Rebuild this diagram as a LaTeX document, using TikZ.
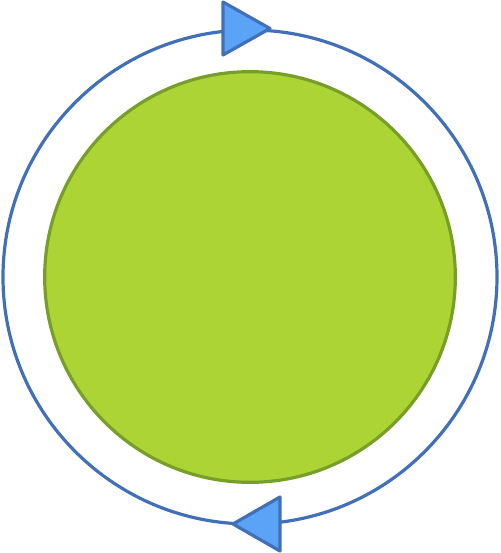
\documentclass[tikz,border=0pt]{standalone}
\usepackage{tikz}
\definecolor{ringblue}{RGB}{65,112,184}
\definecolor{tipblue}{RGB}{91,163,247}
\definecolor{hubgreen}{RGB}{173,212,53}
\definecolor{hubedge}{RGB}{120,158,42}

\begin{document}
\begin{tikzpicture}[line cap=round,line join=round,x=0.75pt,y=-0.75pt,
    ring/.style={line width=2.4pt,color=ringblue},
    tiptri/.style={line width=2.4pt,draw=ringblue,fill=tipblue},
    hub/.style={circle,minimum size=308pt,inner sep=0pt,line width=2.4pt,draw=hubedge,fill=hubgreen}]

    \useasboundingbox (0,0) rectangle (500,553);

    \draw [ring] (250,277) circle (185.25pt);
    \node [hub] (hub) at (250,277) {};

    % arrow heads on the ring
    \draw [tiptri] (223,2) -- (270,28.5) -- (223,55) -- cycle;
    \draw [tiptri] (280,497) -- (233,524) -- (280,551) -- cycle;
\end{tikzpicture}
\end{document}
